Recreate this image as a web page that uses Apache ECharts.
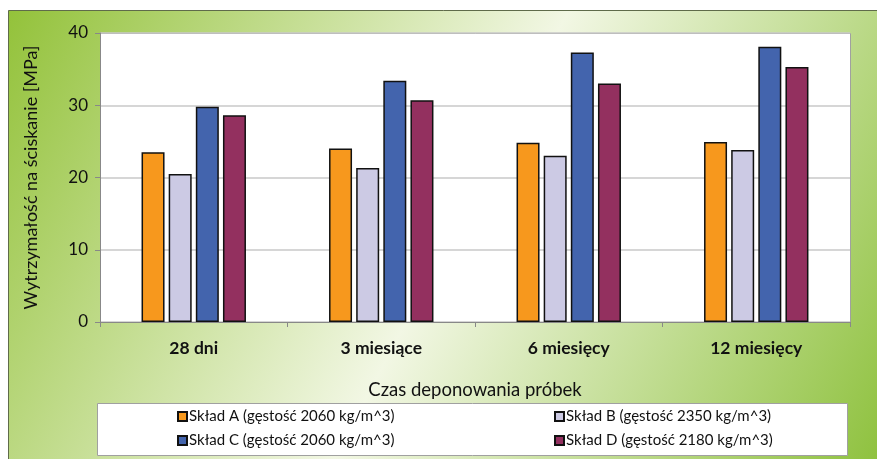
<!DOCTYPE html>
<html><head><meta charset="utf-8">
<script src="https://cdn.jsdelivr.net/npm/echarts@6/dist/echarts.min.js"></script>
<style>html,body{margin:0;padding:0;background:#fff}#c{width:877px;height:459px}</style>
</head><body><div id="c"></div>
<script>
const categories = ['28 dni', '3 miesiące', '6 miesięcy', '12 miesięcy'];
const seriesNames = [
  'Skład A (gęstość 2060 kg/m^3)',
  'Skład B (gęstość 2350 kg/m^3)',
  'Skład C (gęstość 2060 kg/m^3)',
  'Skład D (gęstość 2180 kg/m^3)'
];
const valuesA = [23.5, 24.0, 24.8, 24.9];
const valuesB = [20.5, 21.3, 23.0, 23.8];
const valuesC = [29.8, 33.4, 37.3, 38.1];
const valuesD = [28.6, 30.7, 33.0, 35.3];
const colors = ['#f7981d', '#cccae4', '#4364ad', '#93305f'];
const yTicks = [0, 10, 20, 30, 40];

const font = 'Lato, "Open Sans", sans-serif';
const chart = echarts.init(document.getElementById('c'));
const allVals = [valuesA, valuesB, valuesC, valuesD];
chart.setOption({
  animation: false,
  textStyle: {fontFamily: font},
  graphic: [
    {type: 'rect', z: -10, shape: {x: 8.5, y: 10.5, width: 880, height: 460},
     style: {fill: new echarts.graphic.LinearGradient(0, 0, 1, 1, [
       {offset: 0, color: '#93c23a'}, {offset: 0.5, color: '#f2f7e4'}, {offset: 1, color: '#8cc03a'}]),
       stroke: '#5f6b4a', lineWidth: 1}},
    {type: 'rect', z: -5, shape: {x: 100.5, y: 33.5, width: 750, height: 289},
     style: {fill: '#ffffff', stroke: '#a0a0a0', lineWidth: 1}},
    {type: 'rect', z: -5, shape: {x: 97.5, y: 403.5, width: 750, height: 52},
     style: {fill: '#ffffff', stroke: '#a0a0a0', lineWidth: 1}}
  ],
  grid: {left: 100, top: 33, width: 750, height: 289},
  legend: [
    {data: [seriesNames[0], seriesNames[2]], orient: 'vertical', left: 172, top: 404, itemGap: 9,
     itemWidth: 9, itemHeight: 9, icon: 'rect',
     textStyle: {fontSize: 15, color: '#111', fontFamily: font, padding: [0, 0, 0, -3]}},
    {data: [seriesNames[1], seriesNames[3]], orient: 'vertical', left: 549, top: 404, itemGap: 9,
     itemWidth: 9, itemHeight: 9, icon: 'rect',
     textStyle: {fontSize: 15, color: '#111', fontFamily: font, padding: [0, 0, 0, -3]}}
  ],
  xAxis: {
    type: 'category', data: categories,
    name: 'Czas deponowania próbek', nameLocation: 'middle', nameGap: 59,
    nameTextStyle: {fontSize: 18.5, color: '#111', fontFamily: font},
    axisLine: {lineStyle: {color: '#888'}},
    axisTick: {show: true, length: 5, lineStyle: {color: '#888'}},
    axisLabel: {fontSize: 17.5, fontWeight: 'bold', color: '#111', margin: 17, fontFamily: font},
  },
  yAxis: {
    type: 'value', min: 0, max: 40, interval: 10,
    name: 'Wytrzymałość na ściskanie [MPa]', nameLocation: 'middle', nameGap: 60,
    nameTextStyle: {fontSize: 18, color: '#111', fontFamily: font},
    axisLine: {show: true, lineStyle: {color: '#888'}},
    axisTick: {show: true, length: 5, lineStyle: {color: '#888'}},
    axisLabel: {fontSize: 17, color: '#111', margin: 12, fontFamily: font,
      formatter: v => yTicks.includes(v) ? String(v) : ''},
    splitLine: {lineStyle: {color: '#c8c8c8', width: 1.5}}
  },
  series: allVals.map((vals, i) => ({
    name: seriesNames[i], type: 'bar', data: vals,
    barWidth: 23, barGap: '18%',
    itemStyle: {color: colors[i], borderColor: '#111', borderWidth: 1.5}
  }))
});
</script></body></html>
